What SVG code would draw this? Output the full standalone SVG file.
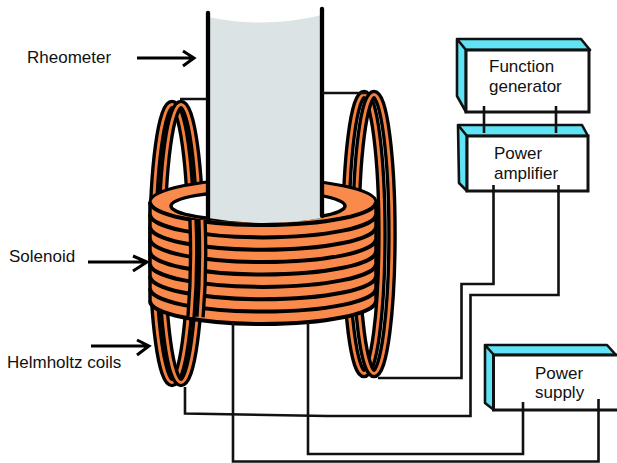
<svg xmlns="http://www.w3.org/2000/svg" width="617" height="463" viewBox="0 0 617 463">
<style>
text{font-family:"Liberation Sans",Arial,sans-serif;font-size:17px;fill:#111}
.w{fill:none;stroke:#111;stroke-width:2.6}
.a{fill:none;stroke:#000;stroke-width:3}
.rb{fill:none;stroke:#000;stroke-width:9.5}
.ro{fill:none;stroke:#f5803e;stroke-width:2.8}
.st{fill:none;stroke:#000;stroke-width:4}
.bx{fill:#fff;stroke:#111;stroke-width:3}
.cy{fill:#5fe3f5;stroke:#111;stroke-width:2.6;stroke-linejoin:round}
</style>
<rect width="617" height="463" fill="#fff"/>
<g id="right-coil">
<ellipse class="rb" cx="364" cy="234" rx="18" ry="139.5"/><ellipse class="ro" cx="364" cy="234" rx="18" ry="139.5"/>
<ellipse class="rb" cx="374" cy="234" rx="18" ry="139.5"/><ellipse class="ro" cx="374" cy="234" rx="18" ry="139.5"/>
</g>
<g id="left-coil-back">
<ellipse class="rb" cx="172" cy="243.500" rx="19" ry="139"/><ellipse class="ro" cx="172" cy="243.500" rx="19" ry="139"/>
<ellipse class="rb" cx="181" cy="243.500" rx="19" ry="139"/><ellipse class="ro" cx="181" cy="243.500" rx="19" ry="139"/>
</g>
<g id="solenoid-top">
<ellipse cx="263" cy="202" rx="113" ry="23" fill="#f98a4c" stroke="#000" stroke-width="3"/>
<ellipse cx="258" cy="206" rx="87" ry="15" fill="#fff" stroke="#000" stroke-width="3.5"/>
</g>
<g id="rheometer">
<path d="M208 17Q265 29 322 15V218Q265 228 208 218Z" fill="#dbe3e5"/>
<path d="M208 13V220M322 9V216" fill="none" stroke="#000" stroke-width="4.300" stroke-linecap="round"/>
</g>
<g id="solenoid">
<path d="M150 202A113 23 0 0 0 376 202V301A113 23 0 0 1 150 301Z" fill="#f98a4c"/>
<path class="st" d="M150 202A113 23 0 0 0 376 202"/>
<path class="st" d="M150 214.400A113 23 0 0 0 376 214.400"/>
<path class="st" d="M150 226.800A113 23 0 0 0 376 226.800"/>
<path class="st" d="M150 239.100A113 23 0 0 0 376 239.100"/>
<path class="st" d="M150 251.500A113 23 0 0 0 376 251.500"/>
<path class="st" d="M150 263.900A113 23 0 0 0 376 263.900"/>
<path class="st" d="M150 276.300A113 23 0 0 0 376 276.300"/>
<path class="st" d="M150 288.600A113 23 0 0 0 376 288.600"/>
<path class="st" d="M150 301A113 23 0 0 0 376 301"/>
<path d="M150 203V301M376 203V301" fill="none" stroke="#000" stroke-width="3.500"/>
</g>
<g id="left-coil-front">
<path d="M193 220Q195 270 191 317" class="rb"/><path d="M193 220Q195 270 191 317" class="ro"/>
<path d="M202 220Q204 270 200 317" class="rb"/><path d="M202 220Q204 270 200 317" class="ro"/>
</g>
<g id="function-generator">
<path class="cy" d="M457 39L466 50V112L457 96ZM457 39H581L590 50H466Z"/>
<rect class="bx" x="466" y="50" width="123" height="62"/>
<text x="489" y="72">Function</text><text x="489" y="92">generator</text>
</g>
<g id="power-amplifier">
<path class="cy" d="M458 125L467 136V191L459 183ZM458 125H582L588 136H467Z"/>
<rect class="bx" x="467" y="136" width="121" height="55"/>
<text x="494" y="159">Power</text><text x="494" y="179">amplifier</text>
</g>
<g id="power-supply">
<path class="cy" d="M485 345L494 355V410L485 403ZM485 345H607L616 355H494Z"/>
<rect class="bx" x="493.500" y="355" width="125" height="55"/>
<text x="535" y="379">Power</text><text x="535" y="398">supply</text>
</g>
<g id="connectors">
<path class="w" d="M180 99H207M322 93H367"/>
<path class="w" d="M484 106V133M556 106V133"/>
<path class="w" d="M493.500 185V284H461.500V378H378"/>
<path class="w" d="M558.500 185V295H470.500V416H327L185 413.500V387"/>
<path class="w" d="M308 322V454H523V402"/>
<path class="w" d="M233 322V461.500H598.500V399"/>
<path class="a" d="M137 58H193M183 51L194 58L183 66"/>
<path class="a" d="M88 262H146M133 256L147 262L133 271"/>
<path class="a" d="M91 346H148M137 340L149 346L137 355"/>
</g>
<g id="labels">
<text x="27" y="63">Rheometer</text>
<text x="9" y="262">Solenoid</text>
<text x="7" y="368">Helmholtz coils</text>
</g>
</svg>
